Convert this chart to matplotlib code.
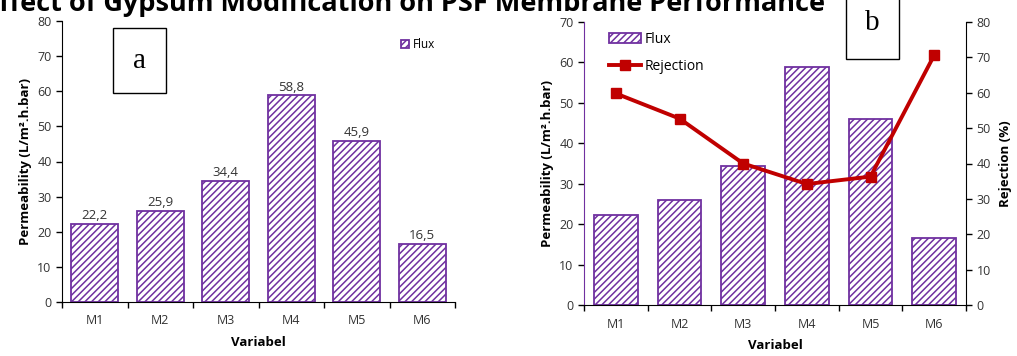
import matplotlib
matplotlib.use("Agg")
import matplotlib.pyplot as plt
from matplotlib.patches import Rectangle

plt.rcParams['font.family'] = ['Open Sans', 'DejaVu Sans']
plt.rcParams['hatch.linewidth'] = 1.1

categories = ["M1", "M2", "M3", "M4", "M5", "M6"]
flux = [22.2, 25.9, 34.4, 58.8, 45.9, 16.5]
rejection = [59.8, 52.7, 40.0, 34.2, 36.3, 70.6]
flux_labels = ["22,2", "25,9", "34,4", "58,8", "45,9", "16,5"]

title = "Effect of Gypsum Modification on PSF Membrane Performance"
xlabel = "Variabel"
ylabel_left = "Permeability (L/m\u00b2.h.bar)"
ylabel_right = "Rejection (%)"

PURPLE = "#7030A0"
RED = "#C00000"
W, H = 1017, 356

fig = plt.figure(figsize=(W / 100, H / 100), dpi=100)


def px_axes(x0, y_top, x1, y_bottom):
    return fig.add_axes([x0 / W, (H - y_bottom) / H, (x1 - x0) / W, (y_bottom - y_top) / H])


def panel_tag(letter, x0, y_top, x1, y_bottom):
    # boxed panel letter placed in figure pixel coordinates
    fig.patches.append(Rectangle((x0 / W, (H - y_bottom) / H), (x1 - x0) / W,
                                 (y_bottom - y_top) / H, transform=fig.transFigure,
                                 facecolor='white', edgecolor='black', linewidth=1.0,
                                 zorder=5))
    fig.text((x0 + x1) / 2 / W, (H - (y_top + y_bottom) / 2) / H, letter,
             ha='center', va='center', fontsize=21, family='Liberation Serif', zorder=6)


def style_category_axis(ax):
    n = len(categories)
    ax.set_xlim(-0.5, n - 0.5)
    ax.set_xticks([i - 0.5 for i in range(n + 1)])
    ax.set_xticklabels([])
    ax.set_xticks(range(n), minor=True)
    ax.set_xticklabels(categories, minor=True)
    ax.tick_params(axis='x', which='major', direction='out', length=4, width=1)
    ax.tick_params(axis='x', which='minor', length=0, pad=9, labelsize=9, labelcolor="#333333")
    ax.tick_params(axis='y', direction='out', length=4, width=1, labelsize=9, labelcolor="#333333")
    for s in ('top', 'right'):
        ax.spines[s].set_visible(False)
    ax.set_xlabel(xlabel, fontsize=9.5, fontweight='bold', labelpad=6)


def draw_bars(ax, width):
    x = range(len(categories))
    return ax.bar(x, flux, width=width, facecolor='white', edgecolor=PURPLE,
                  hatch='/////', linewidth=1.3, label="Flux", zorder=2)


# ---- panel a ----
axa = px_axes(62, 21, 455, 302)
bars_a = draw_bars(axa, 0.72)
axa.set_ylim(0, 80)
axa.set_yticks(range(0, 81, 10))
style_category_axis(axa)
axa.set_ylabel(ylabel_left, fontsize=9.5, fontweight='bold', labelpad=4)
for i, (v, lab) in enumerate(zip(flux, flux_labels)):
    axa.text(i, v + 0.5, lab, ha='center', va='bottom', fontsize=9.5, color="#333333")
axa.legend(handles=[bars_a], loc='upper left', bbox_to_anchor=(0.85, 0.955),
           frameon=False, fontsize=8.5, handlelength=0.7, handleheight=0.7,
           handletextpad=0.3, borderaxespad=0)
panel_tag("a", 113, 28, 166, 93)

# ---- panel b ----
axb = px_axes(584, 22, 966, 305)
bars_b = draw_bars(axb, 0.69)
axb.set_ylim(0, 70)
axb.set_yticks(range(0, 71, 10))
style_category_axis(axb)
axb.spines['left'].set_color(PURPLE)
axb.set_ylabel(ylabel_left, fontsize=9.5, fontweight='bold', labelpad=4)

axr = axb.twinx()
axr.set_ylim(0, 80)
axr.set_yticks(range(0, 81, 10))
line_r, = axr.plot(range(len(categories)), rejection, color=RED, linewidth=2.8,
                   marker='s', markersize=7.5, label="Rejection", zorder=3)
for s in ('top', 'left', 'bottom'):
    axr.spines[s].set_visible(False)
axr.tick_params(axis='y', direction='out', length=4, width=1, labelsize=9, labelcolor="#333333")
axr.set_ylabel(ylabel_right, fontsize=9.5, fontweight='bold', labelpad=6)

axr.legend(handles=[bars_b, line_r], loc='upper left', bbox_to_anchor=(0.052, 0.985),
           frameon=False, fontsize=10, handlelength=2.3, handleheight=0.7,
           handletextpad=0.2, labelspacing=0.85, borderaxespad=0)

panel_tag("b", 846, -12, 899, 59)

# figure title, partly outside the canvas
fig.text(405 / W, 1 - 11 / H, title, ha='center', va='baseline', fontsize=19.5, fontweight='bold')

fig.savefig("out.png", dpi=100)
